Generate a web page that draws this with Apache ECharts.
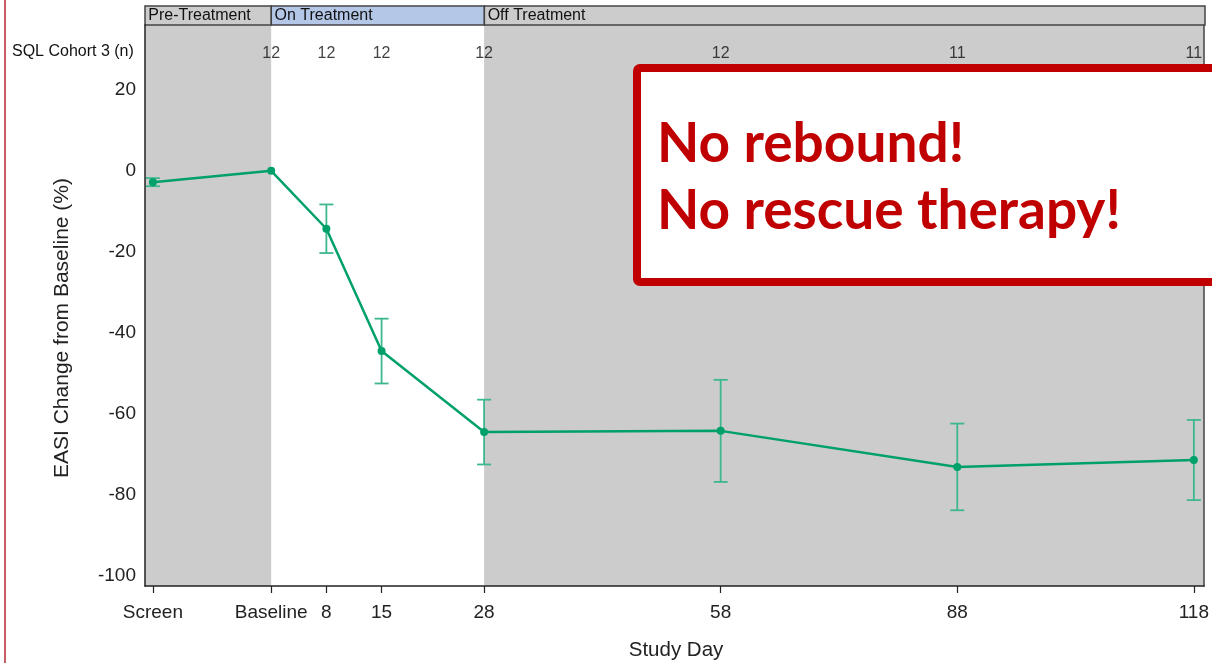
<!DOCTYPE html>
<html>
<head>
<meta charset="utf-8">
<style>
  html, body { margin: 0; padding: 0; background: #ffffff; }
  #chart { width: 1212px; height: 663px; }
</style>
<script src="https://cdn.jsdelivr.net/npm/echarts@6/dist/echarts.min.js"></script>
</head>
<body>
<div id="chart"></div>
<script>
// Study visits (study day) and their axis labels
const visitDays = [-14, 1, 8, 15, 28, 58, 88, 118];
const visitLabels = ['Screen', 'Baseline', '8', '15', '28', '58', '88', '118'];

// Mean EASI change from baseline (%) and error-bar half widths
const meanChange = [-2.8, 0, -14.3, -44.5, -64.5, -64.2, -73.1, -71.4];
const errorHalf = [1.0, 0, 6.0, 8.0, 8.0, 12.6, 10.7, 9.9];

// Number of subjects per visit (SQL Cohort 3)
const countDays = [1, 8, 15, 28, 58, 88, 118];
const countValues = [12, 12, 12, 12, 12, 11, 11];

// Treatment phases (start / end study day)
const phaseNames = ['Pre-Treatment', 'On Treatment', 'Off Treatment'];
const phaseStart = [-15, 1, 28];
const phaseEnd = [1, 28, 119.3];
const phaseColors = ['#cccccc', '#b4c7e7', '#cccccc'];

// Y axis tick values
const yTicks = [-100, -80, -60, -40, -20, 0, 20];

const X_MIN = -15, X_MAX = 119.3;
const Y_MIN = -102.5, Y_MAX = 36;
const COUNT_ROW_Y = 29;

const FONT = '"Liberation Sans", Arial, sans-serif';
const LINE_GREEN = '#00a06a';
const BAR_GREEN = '#3db88c';

const chart = echarts.init(document.getElementById('chart'), null, { renderer: 'canvas' });

const shadedPhases = [];
const headerBoxes = [];
phaseNames.forEach(function (name, i) {
  if (phaseColors[i] === '#cccccc') {
    shadedPhases.push([{ xAxis: phaseStart[i], itemStyle: { color: '#cccccc' } }, { xAxis: phaseEnd[i] }]);
  }
  headerBoxes.push([
    { xAxis: phaseStart[i], name: name, itemStyle: { color: phaseColors[i] } },
    { xAxis: phaseEnd[i] }
  ]);
});

const errorData = visitDays.map(function (d, i) {
  return [d, meanChange[i] - errorHalf[i], meanChange[i] + errorHalf[i]];
});

const option = {
  animation: false,
  backgroundColor: '#ffffff',
  grid: [
    { left: 145, right: 7, top: 25, bottom: 77 },
    { left: 145, right: 7, top: 6, height: 19 }
  ],
  xAxis: [
    {
      type: 'value', gridIndex: 0, position: 'bottom', min: X_MIN, max: X_MAX, z: 10,
      splitLine: { show: false },
      axisLine: { onZero: false, lineStyle: { color: '#222', width: 1.5 } },
      axisTick: { customValues: visitDays, length: 7, lineStyle: { color: '#222', width: 1.2 } },
      axisLabel: {
        customValues: visitDays,
        margin: 17,
        fontFamily: FONT, fontSize: 19, color: '#222',
        formatter: function (v) {
          const idx = visitDays.indexOf(v);
          return idx >= 0 ? visitLabels[idx] : '';
        }
      }
    },
    { type: 'value', gridIndex: 1, min: X_MIN, max: X_MAX, show: false }
  ],
  yAxis: [
    {
      type: 'value', gridIndex: 0, position: 'left', min: Y_MIN, max: Y_MAX, z: 10,
      splitLine: { show: false },
      axisLine: { show: true, onZero: false, lineStyle: { color: '#222', width: 1.5 } },
      axisTick: { show: false },
      axisLabel: { customValues: yTicks, margin: 9, fontFamily: FONT, fontSize: 19, color: '#222' }
    },
    {
      type: 'value', gridIndex: 0, position: 'right', min: Y_MIN, max: Y_MAX, z: 10,
      splitLine: { show: false },
      axisLine: { show: true, onZero: false, lineStyle: { color: '#444', width: 1.5 } },
      axisTick: { show: false }, axisLabel: { show: false }
    },
    { type: 'value', gridIndex: 1, min: 0, max: 1, show: false }
  ],
  series: [
    {
      // phase shading behind the data
      type: 'line', xAxisIndex: 0, yAxisIndex: 0, data: [], silent: true, z: 1,
      markArea: { silent: true, data: shadedPhases }
    },
    {
      // phase header strip
      type: 'line', xAxisIndex: 1, yAxisIndex: 2, data: [], silent: true,
      markArea: {
        silent: true,
        itemStyle: { borderColor: '#444', borderWidth: 1.5 },
        label: { show: true, position: 'insideLeft', distance: 4, fontFamily: FONT, fontSize: 16, color: '#111' },
        data: headerBoxes
      }
    },
    {
      // subject counts row
      type: 'scatter', xAxisIndex: 0, yAxisIndex: 0, symbolSize: 0, silent: true, z: 5,
      data: countDays.map(function (d, i) { return [d, COUNT_ROW_Y, countValues[i]]; }),
      label: {
        show: true, position: 'inside', fontFamily: FONT, fontSize: 16, color: '#111',
        formatter: function (p) { return String(p.value[2]); }
      }
    },
    {
      // error bars
      type: 'custom', xAxisIndex: 0, yAxisIndex: 0, silent: true, z: 3,
      data: errorData,
      renderItem: function (params, api) {
        const x = api.value(0), lo = api.value(1), hi = api.value(2);
        if (hi - lo <= 0) return { type: 'group', children: [] };
        const top = api.coord([x, hi]);
        const bot = api.coord([x, lo]);
        const cap = 7;
        const style = { stroke: BAR_GREEN, lineWidth: 1.8 };
        return {
          type: 'group',
          children: [
            { type: 'line', shape: { x1: top[0], y1: top[1], x2: bot[0], y2: bot[1] }, style: style },
            { type: 'line', shape: { x1: top[0] - cap, y1: top[1], x2: top[0] + cap, y2: top[1] }, style: style },
            { type: 'line', shape: { x1: bot[0] - cap, y1: bot[1], x2: bot[0] + cap, y2: bot[1] }, style: style }
          ]
        };
      }
    },
    {
      // mean change line
      type: 'line', xAxisIndex: 0, yAxisIndex: 0, z: 4,
      data: visitDays.map(function (d, i) { return [d, meanChange[i]]; }),
      symbol: 'circle', symbolSize: 8,
      lineStyle: { color: LINE_GREEN, width: 2.5 },
      itemStyle: { color: LINE_GREEN }
    }
  ],
  graphic: [
    { type: 'line', silent: true, shape: { x1: 5, y1: 0, x2: 5, y2: 663 }, style: { stroke: '#b5282c', lineWidth: 1.5 } },
    {
      type: 'text', silent: true, x: 12, y: 52,
      style: { text: 'SQL Cohort 3 (n)', font: '16px ' + FONT, fill: '#111', verticalAlign: 'middle', align: 'left' }
    },
    {
      type: 'text', silent: true, x: 62, y: 328, rotation: Math.PI / 2,
      style: { text: 'EASI Change from Baseline (%)', font: '21px ' + FONT, fill: '#222', align: 'center', verticalAlign: 'middle' }
    },
    {
      type: 'text', silent: true, x: 676, y: 650,
      style: { text: 'Study Day', font: '20.5px ' + FONT, fill: '#222', align: 'center', verticalAlign: 'middle' }
    },
    {
      type: 'rect', silent: true, z: 100,
      shape: { x: 637, y: 68, width: 590, height: 214, r: 3 },
      style: { fill: '#ffffff', stroke: '#c00000', lineWidth: 8 }
    },
    {
      type: 'text', silent: true, z: 101, x: 657, y: 144,
      style: { text: 'No rebound!', font: 'bold 55px Lato, "Open Sans", sans-serif', fill: '#c00000', verticalAlign: 'middle', align: 'left' }
    },
    {
      type: 'text', silent: true, z: 101, x: 657, y: 211,
      style: { text: 'No rescue therapy!', font: 'bold 55px Lato, "Open Sans", sans-serif', fill: '#c00000', verticalAlign: 'middle', align: 'left' }
    }
  ]
};

chart.setOption(option);
</script>
</body>
</html>
